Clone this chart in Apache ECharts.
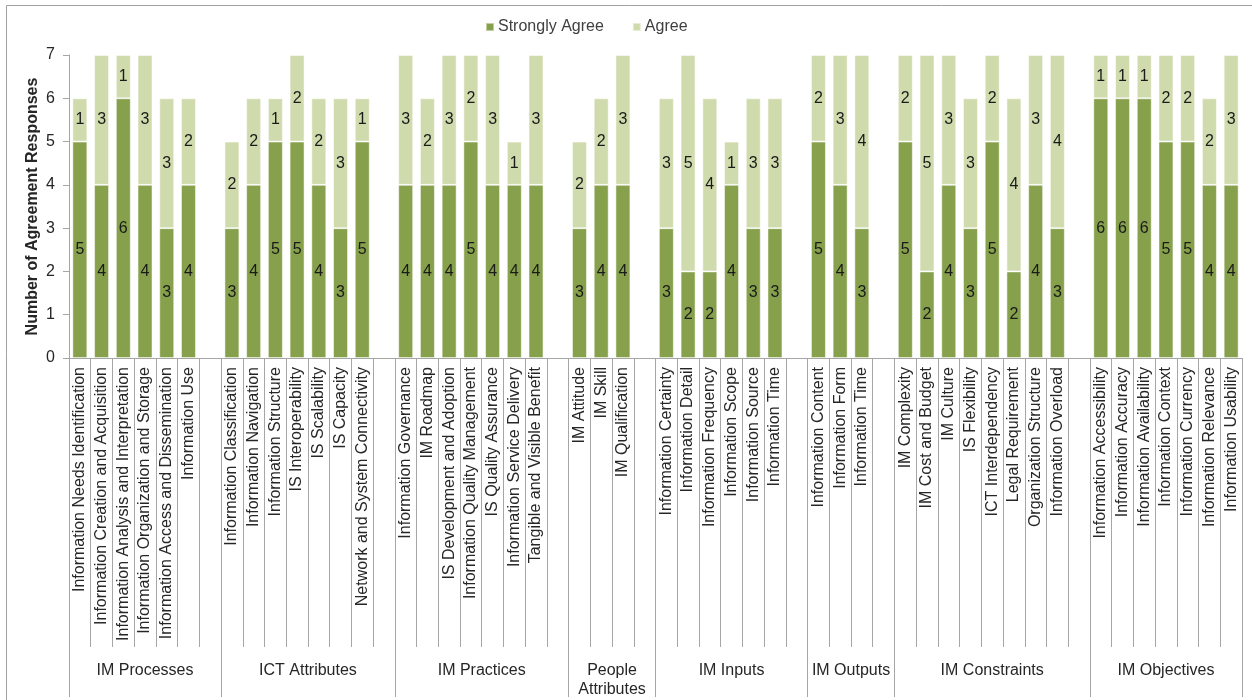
<!DOCTYPE html>
<html>
<head>
<meta charset="utf-8">
<script src="https://cdn.jsdelivr.net/npm/echarts@6/dist/echarts.min.js"></script>
<style>
  html, body { margin: 0; padding: 0; background: #fff; }
  #chart { width: 1252px; height: 700px; }
</style>
</head>
<body>
<div id="chart"></div>
<script>
// Agreement responses per IM factor, grouped by dimension
var groupNames = ['IM Processes', 'ICT Attributes', 'IM Practices', 'People\nAttributes',
  'IM Inputs', 'IM Outputs', 'IM Constraints', 'IM Objectives'];
var groupSizes = [6, 7, 7, 3, 6, 3, 8, 7];

var categories = [
  'Information Needs Identification', 'Information Creation and Acquisition',
  'Information Analysis and Interpretation', 'Information Organization and Storage',
  'Information Access and Dissemination', 'Information Use',
  'Information Classification', 'Information Navigation', 'Information Structure',
  'IS Interoperability', 'IS Scalability', 'IS Capacity', 'Network and System Connectivity',
  'Information Governance', 'IM Roadmap', 'IS Development and Adoption',
  'Information Quality Management', 'IS Quality Assurance', 'Information Service Delivery',
  'Tangible and Visible Benefit',
  'IM Attitude', 'IM Skill', 'IM Qualification',
  'Information Certainty', 'Information Detail', 'Information Frequency', 'Information Scope',
  'Information Source', 'Information Time',
  'Information Content', 'Information Form', 'Information Time',
  'IM Complexity', 'IM Cost and Budget', 'IM Culture', 'IS Flexibility', 'ICT Interdependency',
  'Legal Requirement', 'Organization Structure', 'Information Overload',
  'Information Accessibility', 'Information Accuracy', 'Information Availability',
  'Information Context', 'Information Currency', 'Information Relevance', 'Information Usability'
];

var stronglyAgree = [5, 4, 6, 4, 3, 4,
  3, 4, 5, 5, 4, 3, 5,
  4, 4, 4, 5, 4, 4, 4,
  3, 4, 4,
  3, 2, 2, 4, 3, 3,
  5, 4, 3,
  5, 2, 4, 3, 5, 2, 4, 3,
  6, 6, 6, 5, 5, 4, 4];

var agree = [1, 3, 1, 3, 3, 2,
  2, 2, 1, 2, 2, 3, 1,
  3, 2, 3, 2, 3, 1, 3,
  2, 2, 3,
  3, 5, 4, 1, 3, 3,
  2, 3, 4,
  2, 5, 3, 3, 2, 4, 3, 4,
  1, 1, 1, 2, 2, 2, 3];

var yMin = 0, yMax = 7, yStep = 1;

// build slots: an empty slot closes every group except the last
var slotNames = [], saSlots = [], agSlots = [], bounds = [0];
var k = 0;
groupSizes.forEach(function (n, g) {
  for (var i = 0; i < n; i++, k++) {
    slotNames.push(categories[k]);
    saSlots.push(stronglyAgree[k]);
    agSlots.push(agree[k]);
  }
  if (g < groupSizes.length - 1) {
    slotNames.push('');
    saSlots.push(null);
    agSlots.push(null);
  }
  bounds.push(slotNames.length);
});

// group axis on half-slot steps so labels sit at group centres
var groupAxis = [];
for (var h = 0; h <= slotNames.length * 2; h++) groupAxis.push('');
groupNames.forEach(function (name, g) {
  groupAxis[bounds[g] + bounds[g + 1]] = name;
});
var groupTicks = {};
bounds.forEach(function (b) { groupTicks[b * 2] = true; });

var FONT = '"Liberation Sans", Arial, sans-serif';
var TEXT = '#262626';
var LINE = '#A6A6A6';

var chart = echarts.init(document.getElementById('chart'), null, { renderer: 'canvas' });

chart.setOption({
  animation: false,
  textStyle: { fontFamily: FONT },
  graphic: [{
    type: 'rect',
    shape: { x: 6.5, y: 5.5, width: 1250, height: 700 },
    style: { fill: 'none', stroke: '#A0A0A0', lineWidth: 1 },
    silent: true
  }],
  legend: {
    left: 480,
    top: 14,
    itemWidth: 8,
    itemHeight: 8,
    itemGap: 28,
    icon: 'rect',
    textStyle: { fontFamily: FONT, fontSize: 16, color: '#404040', padding: [0, 0, 0, -1] },
    data: ['Strongly Agree', 'Agree']
  },
  grid: { left: 69, right: 10, top: 55, bottom: 342, containLabel: false },
  xAxis: [
    {
      type: 'category',
      position: 'bottom',
      data: slotNames,
      axisLine: { lineStyle: { color: LINE } },
      axisTick: { show: true, interval: 0, length: 289, lineStyle: { color: LINE } },
      axisLabel: {
        interval: 0,
        rotate: 90,
        margin: 9,
        fontFamily: FONT,
        fontSize: 16,
        color: TEXT
      }
    },
    {
      type: 'category',
      position: 'bottom',
      boundaryGap: false,
      data: groupAxis,
      axisLine: { show: false },
      axisTick: {
        show: true,
        length: 339,
        interval: function (i) { return !!groupTicks[i]; },
        lineStyle: { color: LINE }
      },
      axisLabel: {
        interval: 0,
        margin: 303,
        fontFamily: FONT,
        fontSize: 16,
        lineHeight: 19,
        color: TEXT,
        align: 'center'
      }
    }
  ],
  yAxis: {
    type: 'value',
    min: yMin,
    max: yMax,
    interval: yStep,
    name: 'Number of Agreement Responses',
    nameLocation: 'middle',
    nameGap: 28,
    nameMoveOverlap: false,
    nameTextStyle: { fontFamily: FONT, fontSize: 16, fontWeight: 'bold', color: TEXT },
    axisLine: { show: true, lineStyle: { color: LINE } },
    axisTick: { show: true, length: 6, lineStyle: { color: LINE } },
    axisLabel: { margin: 14, fontFamily: FONT, fontSize: 16, color: TEXT },
    splitLine: { show: false }
  },
  series: [
    {
      name: 'Strongly Agree',
      type: 'bar',
      stack: 'agree',
      data: saSlots,
      barWidth: '69%',
      itemStyle: { color: '#86A04B', borderColor: 'rgba(255,255,255,0.5)', borderWidth: 1 },
      label: { show: true, position: 'inside', fontFamily: FONT, fontSize: 16, color: '#1A1A1A' }
    },
    {
      name: 'Agree',
      type: 'bar',
      stack: 'agree',
      data: agSlots,
      barWidth: '69%',
      itemStyle: { color: '#D0DBAD', borderColor: 'rgba(255,255,255,0.5)', borderWidth: 1 },
      label: { show: true, position: 'inside', fontFamily: FONT, fontSize: 16, color: '#1A1A1A' }
    }
  ]
});
</script>
</body>
</html>
